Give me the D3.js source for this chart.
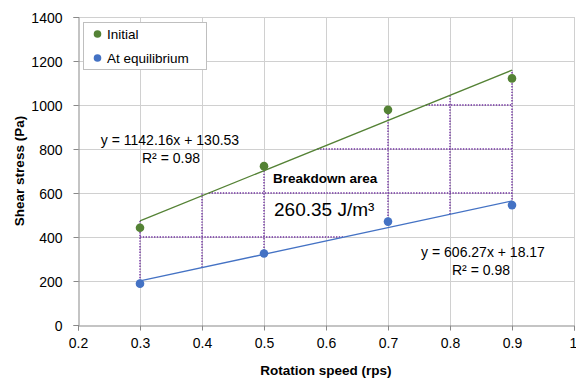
<!DOCTYPE html>
<html>
<head>
<meta charset="utf-8">
<script src="https://cdn.jsdelivr.net/npm/d3@7"></script>
<style>
  html, body { margin: 0; padding: 0; background: #fff; }
  svg { display: block; font-family: "Liberation Sans", Arial, sans-serif; }
</style>
</head>
<body>
<svg id="chart" width="576" height="381"></svg>
<script>
// Rotation speed (rps) at which shear stress was measured
const speeds = [0.3, 0.5, 0.7, 0.9];
// Shear stress (Pa): initial and at equilibrium
const initialStress = [442, 722, 978, 1121];
const equilibriumStress = [188, 325, 470, 545];
// Linear fits [slope, intercept] and R²
const initialFit = [1142.16, 130.53];
const equilibriumFit = [606.27, 18.17];
const initialR2 = 0.98;
const equilibriumR2 = 0.98;
// Breakdown energy (area between the two curves)
const breakdownEnergy = 260.35;
// Construction lines of the breakdown area: verticals [x, yFrom, yTo], horizontals [y, xFrom, xTo]
const areaVerticals = [[0.3, 200, 473], [0.4, 261, 600], [0.5, 325, 722], [0.7, 470, 978], [0.8, 503, 1044], [0.9, 545, 1158]];
const areaHorizontals = [[400, 0.3, 0.63], [600, 0.411, 0.9], [800, 0.586, 0.9], [1000, 0.761, 0.9]];
// Axis ticks
const xTicks = [0.2, 0.3, 0.4, 0.5, 0.6, 0.7, 0.8, 0.9, 1.0];
const yTicks = [0, 200, 400, 600, 800, 1000, 1200, 1400];
const seriesNames = ["Initial", "At equilibrium"];

const green = "#548235", blue = "#4472C4", purple = "#7030A0";
const svg = d3.select("#chart");
const plot = { left: 78, right: 574, top: 17, bottom: 325 };

const x = d3.scaleLinear().domain([0.2, 1.0]).range([plot.left, plot.right]);
const y = d3.scaleLinear().domain([0, 1400]).range([plot.bottom, plot.top]);

// gridlines
const grid = svg.append("g").attr("stroke", "#d0d0d0").attr("stroke-width", 1);
grid.selectAll(".gx").data(xTicks.slice(1)).join("line")
  .attr("x1", d => Math.round(x(d)) + 0.5).attr("x2", d => Math.round(x(d)) + 0.5)
  .attr("y1", plot.top).attr("y2", plot.bottom);
grid.selectAll(".gy").data(yTicks.slice(1)).join("line")
  .attr("x1", plot.left).attr("x2", plot.right)
  .attr("y1", d => Math.round(y(d)) + 0.5).attr("y2", d => Math.round(y(d)) + 0.5);

// axes
const fmtX = d => d === 1 ? "1" : d.toFixed(1);
const xAxis = svg.append("g").attr("transform", `translate(0,${plot.bottom + 0.5})`)
  .call(d3.axisBottom(x).tickValues(xTicks).tickFormat(fmtX).tickSizeOuter(0).tickSize(5).tickPadding(8));
const yAxis = svg.append("g").attr("transform", `translate(${plot.left + 0.5},0)`)
  .call(d3.axisLeft(y).tickValues(yTicks).tickFormat(d3.format("d")).tickSizeOuter(0).tickSize(5).tickPadding(11));
[xAxis, yAxis].forEach(a => {
  a.select(".domain").attr("stroke", "#898989");
  a.selectAll(".tick line").attr("stroke", "#898989");
  a.selectAll(".tick text").attr("fill", "#000").attr("font-size", 14)
    .attr("font-family", "'Liberation Sans', Arial, sans-serif");
});
yAxis.selectAll(".tick text").attr("dy", "0.36em");
// keep the last x label inside the right edge
xAxis.selectAll(".tick text").filter(d => d === 1).attr("text-anchor", "end").attr("dx", "0.2em");

// axis titles
svg.append("text").attr("x", 326).attr("y", 375).attr("text-anchor", "middle")
  .attr("font-weight", "bold").attr("font-size", 13.5).text("Rotation speed (rps)");
svg.append("text").attr("transform", "translate(24,171) rotate(-90)").attr("text-anchor", "middle")
  .attr("font-weight", "bold").attr("font-size", 13.5).text("Shear stress (Pa)");

// breakdown area construction lines
const dotted = svg.append("g").attr("stroke", purple).attr("stroke-width", 1.4)
  .attr("stroke-dasharray", "1.4,1.4").attr("fill", "none");
dotted.selectAll(".v").data(areaVerticals).join("line")
  .attr("x1", d => x(d[0])).attr("x2", d => x(d[0]))
  .attr("y1", d => y(d[1])).attr("y2", d => y(d[2]));
dotted.selectAll(".h").data(areaHorizontals).join("line")
  .attr("y1", d => y(d[0])).attr("y2", d => y(d[0]))
  .attr("x1", d => x(d[1])).attr("x2", d => x(d[2]));

// trendlines
const fitEnds = [d3.min(speeds), d3.max(speeds)];
[[initialFit, green], [equilibriumFit, blue]].forEach(([f, c]) => {
  svg.append("line")
    .attr("x1", x(fitEnds[0])).attr("y1", y(f[0] * fitEnds[0] + f[1]))
    .attr("x2", x(fitEnds[1])).attr("y2", y(f[0] * fitEnds[1] + f[1]))
    .attr("stroke", c).attr("stroke-width", 1.3);
});

// data points
[[initialStress, green], [equilibriumStress, blue]].forEach(([vals, c]) => {
  svg.append("g").selectAll("circle").data(vals).join("circle")
    .attr("cx", (d, i) => x(speeds[i])).attr("cy", d => y(d))
    .attr("r", 4.3).attr("fill", c);
});

// fit equations
const eq = f => `y = ${f[0].toFixed(2)}x + ${f[1].toFixed(2)}`;
svg.append("text").attr("x", 170).attr("y", 145).attr("text-anchor", "middle")
  .attr("font-size", 14).text(eq(initialFit));
svg.append("text").attr("x", 171).attr("y", 163).attr("text-anchor", "middle")
  .attr("font-size", 14).text(`R² = ${initialR2.toFixed(2)}`);
svg.append("text").attr("x", 483).attr("y", 257).attr("text-anchor", "middle")
  .attr("font-size", 14).text(eq(equilibriumFit));
svg.append("text").attr("x", 481).attr("y", 275).attr("text-anchor", "middle")
  .attr("font-size", 14).text(`R² = ${equilibriumR2.toFixed(2)}`);

// breakdown area label
svg.append("text").attr("x", 273).attr("y", 183).attr("font-weight", "bold")
  .attr("font-size", 13.5).text("Breakdown area");
svg.append("text").attr("x", 274).attr("y", 216)
  .attr("font-size", 19).text(`${breakdownEnergy.toFixed(2)} J/m³`);

// legend
const lg = svg.append("g");
lg.append("rect").attr("x", 83.5).attr("y", 22.5).attr("width", 123).attr("height", 47)
  .attr("fill", "#fff").attr("stroke", "#bfbfbf");
[green, blue].forEach((c, i) => {
  lg.append("circle").attr("cx", 97.5).attr("cy", 34 + i * 24).attr("r", 3.8).attr("fill", c);
  lg.append("text").attr("x", 107).attr("y", 39 + i * 24).attr("font-size", 13.5).text(seriesNames[i]);
});
</script>
</body>
</html>
